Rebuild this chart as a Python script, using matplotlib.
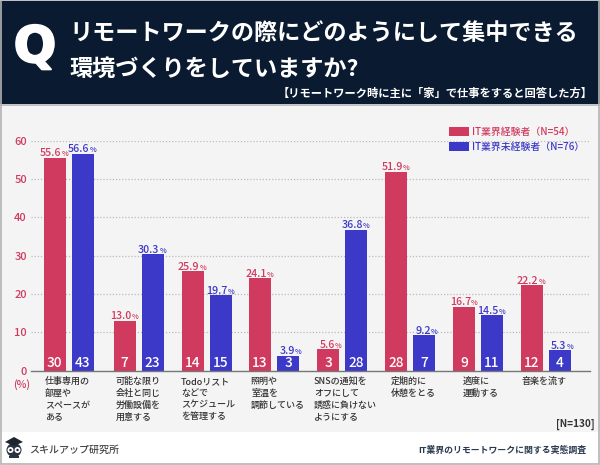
import matplotlib
matplotlib.use("Agg")
import matplotlib.pyplot as plt
import matplotlib.patheffects as pe
from matplotlib.patches import Rectangle, Polygon, Ellipse, Circle

plt.rcParams['font.family'] = ['Noto Sans CJK JP', 'DejaVu Sans']

# data
categories = [
    "仕事専用の\n部屋や\nスペースが\nある",
    "可能な限り\n会社と同じ\n労働設備を\n用意する",
    "Todoリスト\nなどで\nスケジュール\nを管理する",
    "照明や\n室温を\n調節している",
    "SNSの通知を\nオフにして\n誘惑に負けない\nようにする",
    "定期的に\n休憩をとる",
    "適度に\n運動する",
    "音楽を流す",
]
it_exp_pct = [55.6, 13.0, 25.9, 24.1, 5.6, 51.9, 16.7, 22.2]
it_none_pct = [56.6, 30.3, 19.7, 3.9, 36.8, 9.2, 14.5, 5.3]
it_exp_n = [30, 7, 14, 13, 3, 28, 9, 12]
it_none_n = [43, 23, 15, 3, 28, 7, 11, 4]
y_ticks = [0, 10, 20, 30, 40, 50, 60]

# layout in reference pixels
group_x = [68.5, 138.5, 206.5, 274, 342, 410, 478, 545.5]
label_x = [45, 116, 181, 251, 314, 391, 463, 522]
bar_w = 22
bar_gap = 28

RED = '#d13a5f'
BLUE = '#3d39c8'
NAVY = '#0a1a30'
W, H = 600, 465

fig = plt.figure(figsize=(W / 100, H / 100), dpi=100, facecolor='white')

# overlay in pixel coordinates for the banner, panel and footer
bg = fig.add_axes([0, 0, 1, 1], zorder=0)
bg.set_xlim(0, W)
bg.set_ylim(H, 0)
bg.axis('off')
bg.add_patch(Rectangle((0, 105), W, 327, fc='#f4f4f4', ec='none'))
bg.add_patch(Rectangle((0, 104), W, 2, fc='#9aa0a6', ec='none', alpha=0.6))
bg.add_patch(Rectangle((0, 1), W, 103, fc=NAVY, ec='none'))
bg.add_patch(Rectangle((0.5, 0.5), W - 2, H - 2, fc='none', ec='#b4b4b4', lw=1.2))

q = bg.text(35, 48, "Q", color='white', fontsize=36, fontweight='bold', family='DejaVu Sans',
            ha='center', va='center')
q.set_path_effects([pe.withStroke(linewidth=1.5, foreground='white')])
bg.text(69, 33, "リモートワークの際にどのようにして集中できる", color='white', fontsize=16.7,
        fontweight='bold', ha='left', va='center')
bg.text(69, 69, "環境づくりをしていますか?", color='white', fontsize=16.7,
        fontweight='bold', ha='left', va='center')
bg.text(593, 93, "【リモートワーク時に主に「家」で仕事をすると回答した方】", color='white', fontsize=8.1,
        fontweight='bold', ha='right', va='center')

# chart, same pixel scale on x
ax = fig.add_axes([31 / W, (H - 370.5) / H, 559 / W, 229.8 / H], zorder=1)
ax.patch.set_alpha(0)
ax.set_xlim(31, 590)
ax.set_ylim(0, 60)
for s in ax.spines.values():
    s.set_visible(False)
ax.spines['bottom'].set_visible(True)
ax.spines['bottom'].set_color('#777777')
ax.spines['bottom'].set_linewidth(1.0)
ax.set_yticks(y_ticks)
ax.set_yticklabels(y_ticks, color=RED, fontsize=8, fontweight='medium')
ax.set_xticks([])
ax.tick_params(axis='y', length=0, pad=3)
ax.grid(axis='y', color='#bcbcbc', linestyle=(0, (1, 1.5)), linewidth=0.9)
ax.set_axisbelow(True)

x_red = [g - bar_gap / 2 for g in group_x]
x_blue = [g + bar_gap / 2 for g in group_x]
b1 = ax.bar(x_red, it_exp_pct, bar_w, color=RED, label="IT業界経験者（N=54）")
b2 = ax.bar(x_blue, it_none_pct, bar_w, color=BLUE, label="IT業界未経験者（N=76）")


def label_bars(xs, pct, counts, color):
    for x, p, c in zip(xs, pct, counts):
        ax.annotate(f"{p:.1f}", (x, p), xytext=(5, -0.5), textcoords='offset points', color=color,
                    fontsize=7.7, fontweight='medium', ha='right', va='bottom', clip_on=False)
        ax.annotate("%", (x, p), xytext=(5.2, -0.5), textcoords='offset points', color=color,
                    fontsize=5.2, fontweight='medium', ha='left', va='bottom', clip_on=False)
        ax.annotate(str(c), (x, 0), xytext=(0, 0.5), textcoords='offset points', color='white',
                    fontsize=9.8, fontweight='medium', ha='center', va='bottom')


label_bars(x_red, it_exp_pct, it_exp_n, RED)
label_bars(x_blue, it_none_pct, it_none_n, BLUE)

leg = ax.legend(handles=[b1, b2], loc='upper left', bbox_to_anchor=(449 / W, (H - 127) / H),
                bbox_transform=fig.transFigure, frameon=False, labelcolor=[RED, BLUE],
                handlelength=2.0, handleheight=1.0, handletextpad=0.35, labelspacing=0.5,
                borderpad=0, borderaxespad=0, prop={'weight': 'medium', 'size': 7.1})

# axis text below the bars
for lx, cat in zip(label_x, categories):
    bg.text(lx, 377, cat, color='#333333', fontsize=6.5, fontweight='medium', ha='left', va='top',
            linespacing=1.38)
bg.text(22, 385, "(%)", color=RED, fontsize=7.5, fontweight='medium', ha='center', va='center')
bg.text(595, 424, "[N=130]", color='#333333', fontsize=7.2, fontweight='bold', ha='right', va='center')

# footer with a small owl logo
bg.add_patch(Ellipse((14, 450), 15, 14, fc='#2a3440', ec='none'))
bg.add_patch(Polygon([[5, 442], [14, 437], [23, 442], [14, 446]], fc='#1c2530', ec='none'))
for ex in (10.5, 17.5):
    bg.add_patch(Circle((ex, 450), 3, fc='white', ec='none'))
    bg.add_patch(Circle((ex, 450), 1.2, fc='#1c2530', ec='none'))
bg.add_patch(Rectangle((9, 456), 10, 2, fc='#2a3440', ec='none'))
bg.text(29, 450, "スキルアップ研究所", color='#444444', fontsize=7.2, fontweight='medium', ha='left', va='center')
bg.text(586, 450, "IT業界のリモートワークに関する実態調査", color='#2a3a50', fontsize=6.4, fontweight='bold',
        ha='right', va='center')

fig.savefig("out.png", dpi=100)
